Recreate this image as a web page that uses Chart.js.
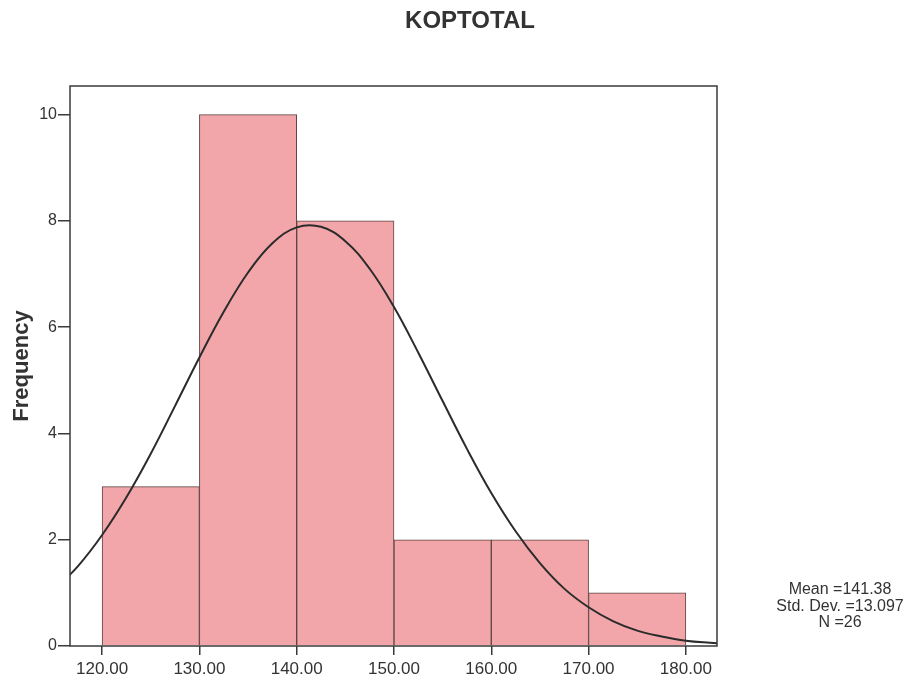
<!DOCTYPE html>
<html lang="en">
<head>
    <meta charset="UTF-8">
    <title>KOPTOTAL</title>
    <script src="https://cdn.jsdelivr.net/npm/chart.js@4.4.1/dist/chart.umd.min.js"></script>
    <style>
        html, body { margin: 0; padding: 0; background: #fff; }
        #wrap { width: 910px; height: 681px; }
    </style>
</head>
<body>
    <div id="wrap"><canvas id="histChart" width="910" height="681"></canvas></div>

    <script>
        // histogram bins (centres) and counts
        var binCenters = [125, 135, 145, 155, 165, 175];
        var counts = [3, 10, 8, 2, 2, 1];

        // normal curve
        var curveX = [115, 117.5, 120, 122.5, 125, 127.5, 130, 132.5, 135, 137.5, 140, 142.5, 145, 147.5,
                      150, 152.5, 155, 157.5, 160, 162.5, 165, 167.5, 170, 172.5, 175, 177.5, 180, 182.5, 185];
        var curveY = [1.04, 1.50, 2.09, 2.80, 3.62, 4.52, 5.43, 6.29, 7.03, 7.58, 7.88, 7.89, 7.62, 7.10,
                      6.38, 5.52, 4.61, 3.71, 2.88, 2.16, 1.56, 1.08, 0.73, 0.47, 0.29, 0.18, 0.10, 0.06, 0.03];

        var xTicks = [120, 130, 140, 150, 160, 170, 180];
        var yTicks = [0, 2, 4, 6, 8, 10];

        var chartTitle = 'KOPTOTAL';
        var statsLines = ['Mean =141.38', 'Std. Dev. =13.097', 'N =26'];

        var barData = binCenters.map(function (c, i) { return { x: c, y: counts[i] }; });
        var curveData = curveX.map(function (x, i) { return { x: x, y: curveY[i] }; });

        // frame around plot + title + stats box
        var extrasPlugin = {
            id: 'extras',
            afterDatasetsDraw: function (chart) {
                var ctx = chart.ctx, a = chart.chartArea;
                ctx.save();
                ctx.strokeStyle = '#3a3a3a';
                ctx.lineWidth = 1.5;
                ctx.strokeRect(a.left, a.top, a.right - a.left, a.bottom - a.top);

                ctx.fillStyle = '#333';
                ctx.textAlign = 'center';
                ctx.textBaseline = 'middle';
                ctx.font = 'bold 24px "Liberation Sans", Arial, sans-serif';
                ctx.fillText(chartTitle, 470, 21);

                ctx.font = '16px "Liberation Sans", Arial, sans-serif';
                statsLines.forEach(function (t, i) {
                    ctx.fillText(t, 840, 590 + i * 16.5);
                });
                ctx.restore();
            }
        };

        var ctx = document.getElementById('histChart').getContext('2d');
        var myChart = new Chart(ctx, {
            type: 'bar',
            data: {
                datasets: [{
                    type: 'line',
                    data: curveData,
                    borderColor: '#2b2b2b',
                    borderWidth: 2,
                    pointRadius: 0,
                    tension: 0.4,
                    fill: false,
                    order: 0
                }, {
                    type: 'bar',
                    data: barData,
                    backgroundColor: '#f2a6a9',
                    borderColor: '#5e4444',
                    borderWidth: 1,
                    barPercentage: 1,
                    categoryPercentage: 1,
                    grouped: false,
                    order: 1
                }]
            },
            options: {
                responsive: false,
                animation: false,
                layout: { padding: { top: 86, right: 193, left: 0, bottom: 0 } },
                plugins: {
                    legend: { display: false },
                    tooltip: { enabled: false }
                },
                scales: {
                    x: {
                        type: 'linear',
                        min: 116.7,
                        max: 183.2,
                        offset: false,
                        afterBuildTicks: function (s) { s.ticks = xTicks.map(function (v) { return { value: v }; }); },
                        afterFit: function (s) { s.height = 35; },
                        grid: { display: true, offset: false, drawOnChartArea: false, tickLength: 9, color: '#3a3a3a', lineWidth: 1.5 },
                        border: { display: false },
                        ticks: {
                            padding: 4,
                            color: '#333',
                            font: { size: 17, family: '"Liberation Sans", Arial, sans-serif' },
                            maxRotation: 0,
                            callback: function (v) { return v.toFixed(2); }
                        }
                    },
                    y: {
                        min: 0,
                        max: 10.54,
                        afterBuildTicks: function (s) { s.ticks = yTicks.map(function (v) { return { value: v }; }); },
                        afterFit: function (s) { s.width = 70; },
                        grid: { display: true, drawOnChartArea: false, tickLength: 12, color: '#3a3a3a', lineWidth: 1.5 },
                        border: { display: false },
                        title: {
                            display: true,
                            text: 'Frequency',
                            color: '#333',
                            padding: { top: 9, bottom: 0 },
                            font: { size: 22, weight: 'bold', family: '"Liberation Sans", Arial, sans-serif' }
                        },
                        ticks: {
                            padding: 1,
                            color: '#333',
                            font: { size: 16, family: '"Liberation Sans", Arial, sans-serif' }
                        }
                    }
                }
            },
            plugins: [extrasPlugin]
        });
    </script>
</body>
</html>
